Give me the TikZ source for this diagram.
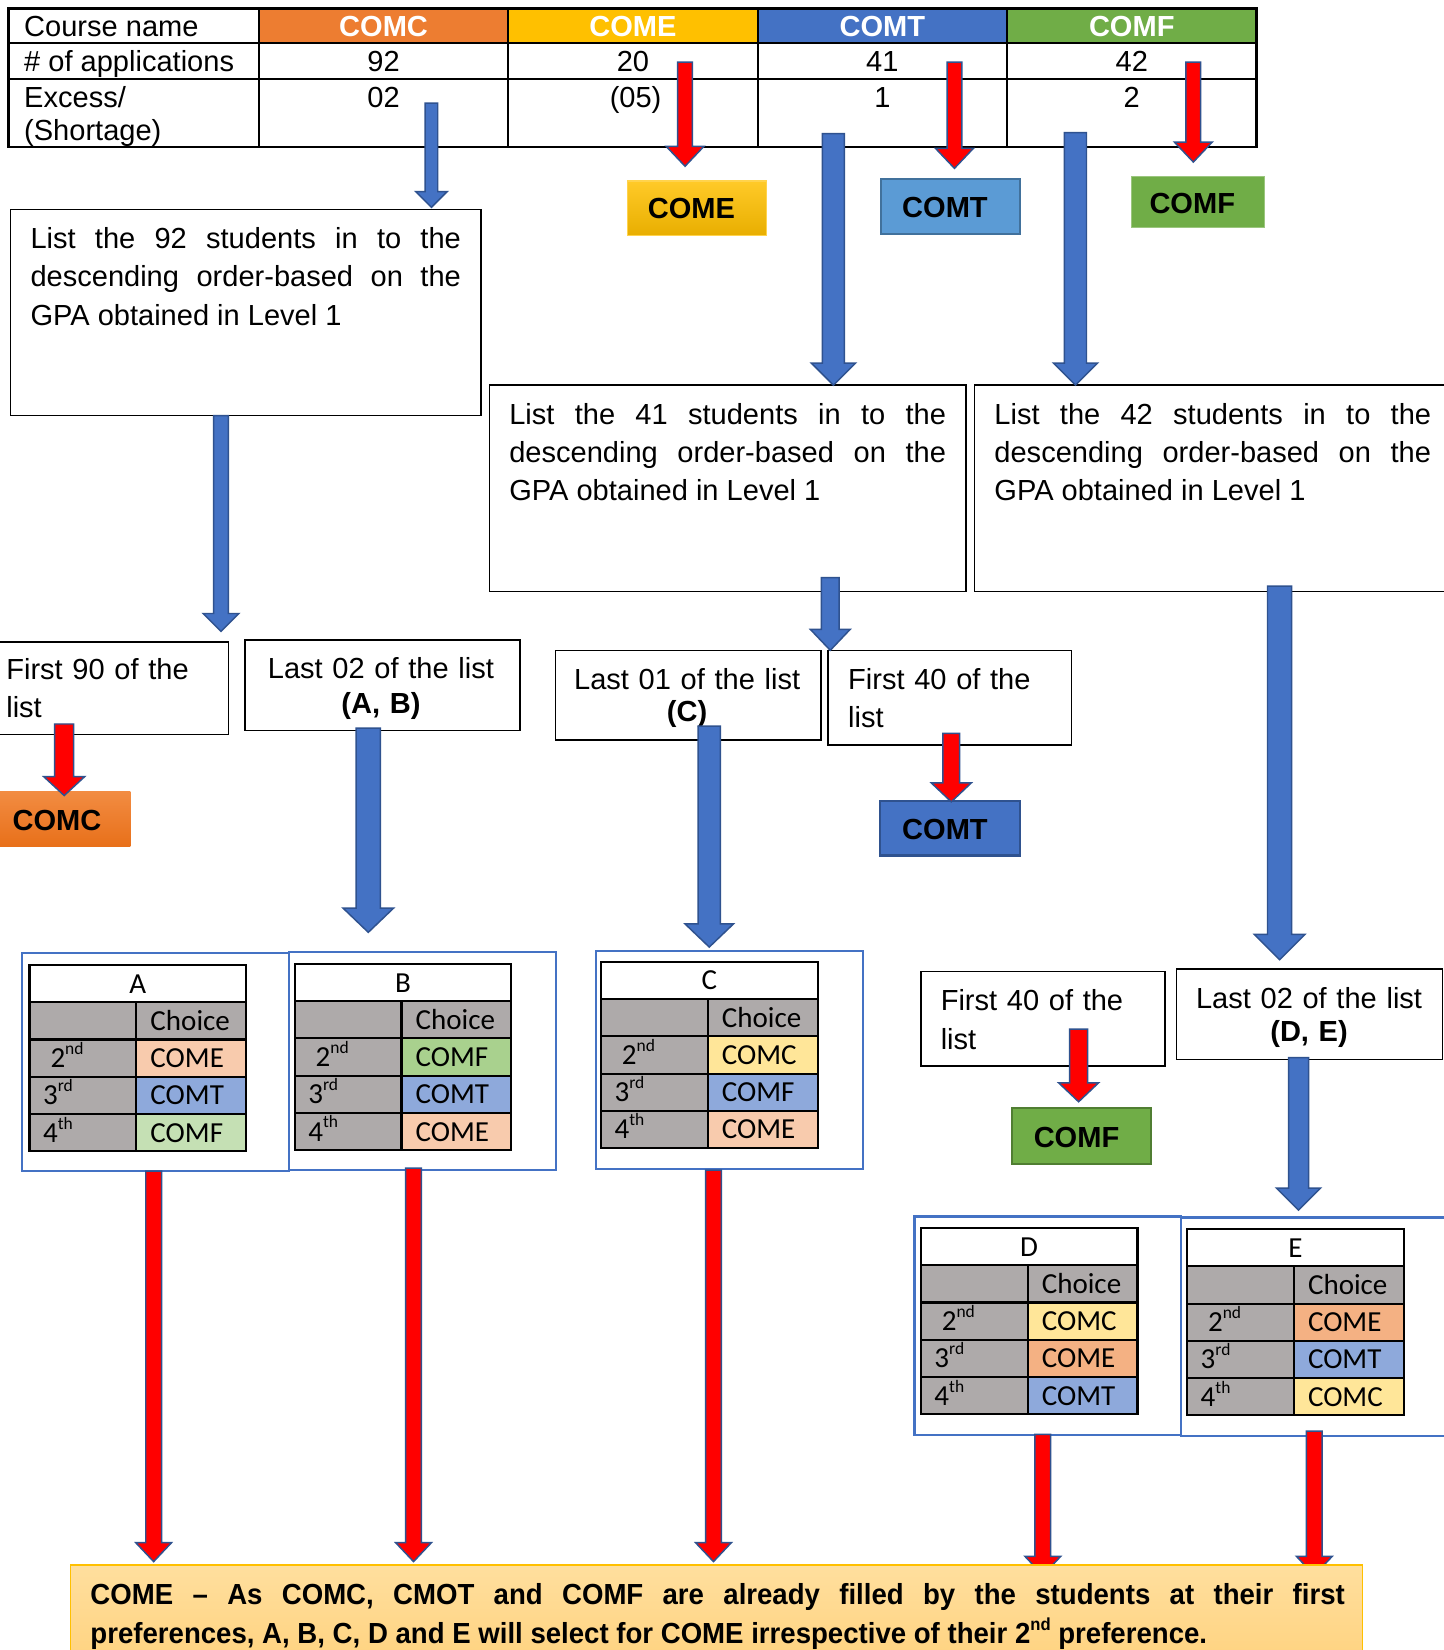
\documentclass[tikz,border=0pt]{standalone}
\usepackage{fontspec}
\setmainfont{Liberation Sans}
\newfontfamily\calfont{Carlito}
\newfontfamily\condfont[FakeStretch=0.95]{Liberation Sans}
\usetikzlibrary{fit}
\definecolor{cOrange}{HTML}{ED7D31}
\definecolor{cOrTop}{HTML}{F28C42}
\definecolor{cOrBot}{HTML}{E8701A}
\definecolor{cGold}{HTML}{FFC000}
\definecolor{cGoTop}{HTML}{FFCA28}
\definecolor{cGoBot}{HTML}{E8AE00}
\definecolor{cNoteTop}{HTML}{FFDF9E}
\definecolor{cNoteBot}{HTML}{FFD27E}
\definecolor{cBlue}{HTML}{4472C4}
\definecolor{cGreen}{HTML}{70AD47}
\definecolor{cEdge}{HTML}{2F528F}
\definecolor{cGrey}{HTML}{AEAAAA}
\definecolor{cPeach}{HTML}{F8CBAD}
\definecolor{cPeachD}{HTML}{F4B183}
\definecolor{cLBlue}{HTML}{8EA9DB}
\definecolor{cLGreen}{HTML}{C5E0B4}
\definecolor{cMGreen}{HTML}{A9D18E}
\definecolor{cLYellow}{HTML}{FFE699}
\definecolor{cSky}{HTML}{5B9BD5}
\definecolor{cSkyEdge}{HTML}{41719C}
\definecolor{cGreenEdge}{HTML}{507E32}
\definecolor{cRed}{HTML}{FF0000}
\newcommand{\bodyfont}{\fontsize{13.8}{18.25}\selectfont}
\newcommand{\supx}[1]{\raisebox{0.45em}{\fontsize{8.3}{8.3}\selectfont #1}}
\newcommand{\blockarrow}[7]{%
  \filldraw[fill=#7, draw=cEdge, line width=0.7pt, line join=miter]
  ({#1-#4},#2) -- ({#1+#4},#2) -- ({#1+#4},{#3-#6}) -- ({#1+#5},{#3-#6}) -- (#1,#3)
  -- ({#1-#5},{#3-#6}) -- ({#1-#4},{#3-#6}) -- cycle;}
\newcommand{\choicetab}[9]{%
  \begin{scope}[shift={(#1,#2)}]
    \fill[white] (0,0) rectangle (206,35.4);
    \fill[cGrey] (0,35.4) rectangle (206,177);
    \fill[#4] (101.5,70.8) rectangle (206,106.2);
    \fill[#6] (101.5,106.2) rectangle (206,141.6);
    \fill[#8] (101.5,141.6) rectangle (206,177);
    \draw[line width=1pt] (0,0) rectangle (206,177);
    \foreach \yy in {35.4,70.8,106.2,141.6} \draw[line width=1pt] (0,\yy) -- (206,\yy);
    \draw[line width=1pt] (101.5,35.4) -- (101.5,177);
    \node[ctxt, anchor=base] (h#3) at (103,26.7) {#3};
    \node[ctxt] (ch#3) at (115,62.1) {Choice};
    \node[ctxt] (r2#3) at (20,97.5) {2\supx{nd}};
    \node[ctxt] (r3#3) at (13,132.9) {3\supx{rd}};
    \node[ctxt] (r4#3) at (13,168.3) {4\supx{th}};
    \node[ctxt] (c2#3) at (115,97.5) {#5};
    \node[ctxt] (c3#3) at (115,132.9) {#7};
    \node[ctxt] (c4#3) at (115,168.3) {#9};
  \end{scope}}
\begin{document}
\begin{tikzpicture}[x=0.5pt,y=-0.5pt,
  every node/.style={inner sep=0pt,outer sep=0pt},
  txt/.style={font=\bodyfont, anchor=base west},
  ctxt/.style={font=\calfont\bodyfont, anchor=base west},
  hdr/.style={font=\bodyfont\bfseries, text=white, anchor=base},
  num/.style={font=\bodyfont, anchor=base},
  bx/.style={draw=black, line width=0.7pt, fill=white},
  frame/.style={draw=cBlue, line width=1pt},
  lab/.style={font=\bodyfont\bfseries, anchor=base}]
\useasboundingbox (0,0) rectangle (1372,1568);
\fill[white] (0,0) rectangle (1372,1568);

% ---------- top table ----------
\fill[cOrange] (246,8) rectangle (483,41);
\fill[cGold] (483,8) rectangle (720,41);
\fill[cBlue] (720,8) rectangle (957,41);
\fill[cGreen] (957,8) rectangle (1194,41);
\draw[line width=1.1pt] (8,8) rectangle (1194,140);
\draw[line width=1.1pt] (8,41) -- (1194,41) (8,75) -- (1194,75);
\foreach \xx in {246,483,720,957} \draw[line width=1.1pt] (\xx,8) -- (\xx,140);
\node[txt] (cn) at (23,35) {Course name};
\node[txt] (na) at (23,68) {\# of applications};
\node[txt, text width=100pt, font=\fontsize{13.8}{15.8}\selectfont] (ex) at (23,102) {Excess/\\(Shortage)};
\node[hdr] (hC) at (364.5,35) {COMC};
\node[hdr] (hE) at (601.5,35) {COME};
\node[hdr] (hT) at (838.5,35) {COMT};
\node[hdr] (hF) at (1075.5,35) {COMF};
\node[num] (aC) at (364.5,68) {92};
\node[num] (aE) at (601.5,68) {20};
\node[num] (aT) at (838.5,68) {41};
\node[num] (aF) at (1075.5,68) {42};
\node[num] (eC) at (364.5,102) {02};
\node[num] (eE) at (604,102) {(05)};
\node[num] (eT) at (838.5,102) {1};
\node[num] (eF) at (1075.5,102) {2};

% ---------- list boxes ----------
\node[bx, fit={(10,199) (457,395)}] (b92) {};
\node[txt, text width=204.5pt, align=justify] (t92) at (29,236)
  {\tolerance=10000 List the 92 students in to the\linebreak descending order-based on the\linebreak GPA obtained in Level 1};
\node[bx, fit={(465,366) (918,562)}] (b41) {};
\node[txt, text width=207.5pt, align=justify] (t41) at (484,403)
  {\tolerance=10000 List the 41 students in to the\linebreak descending order-based on the\linebreak GPA obtained in Level 1};
\node[bx, fit={(926,366) (1385,562)}] (b42) {};
\node[txt, text width=207.5pt, align=justify] (t42) at (945,403)
  {\tolerance=10000 List the 42 students in to the\linebreak descending order-based on the\linebreak GPA obtained in Level 1};

% ---------- split boxes ----------
\node[bx, fit={(-3,610) (217,698)}] (bF90) {};
\node[txt, text width=100pt, font=\fontsize{13.8}{18}\selectfont] (tF90) at (6,646) {First 90 of the\\list};
\node[bx, fit={(233,608) (494,694)}] (bL02) {};
\node[txt, anchor=base, text width=130pt, align=center, font=\fontsize{13.8}{16.5}\selectfont] (tL02) at (362,645) {Last 02 of the list\\\textbf{(A, B)}};
\node[bx, fit={(528,618) (780,703)}] (bL01) {};
\node[txt, anchor=base, text width=126pt, align=center, font=\fontsize{13.8}{15.5}\selectfont] (tL01) at (653,655) {Last 01 of the list\\\textbf{(C)}};
\node[bx, fit={(787,618) (1018,708)}] (bF40) {};
\node[txt, text width=105pt, font=\fontsize{13.8}{18}\selectfont] (tF40) at (806,655) {First 40 of the\\list};
\node[bx, fit={(875,923) (1107,1013)}] (bF40b) {};
\node[txt, text width=105pt, font=\fontsize{13.8}{18.5}\selectfont] (tF40b) at (894,960) {First 40 of the\\list};
\node[bx, fit={(1118,921) (1371,1007)}] (bL02b) {};
\node[txt, anchor=base, text width=126pt, align=center, font=\fontsize{13.8}{16}\selectfont] (tL02b) at (1244,958) {Last 02 of the list\\\textbf{(D, E)}};

% ---------- choice tables ----------
\node[frame, fit={(21,906) (275,1113)}] (fA) {};
\node[frame, fit={(275,905) (528,1112)}] (fB) {};
\node[frame, fit={(566,904) (820,1111)}] (fC) {};
\node[frame, fit={(869,1156) (1122,1364)}] (fD) {};
\node[frame, fit={(1122,1157) (1380,1365)}] (fE) {};
\choicetab{28}{917}{A}{cPeach}{COME}{cLBlue}{COMT}{cLGreen}{COMF}
\choicetab{280}{916}{B}{cMGreen}{COMF}{cLBlue}{COMT}{cPeach}{COME}
\choicetab{571}{914}{C}{cLYellow}{COMC}{cLBlue}{COMF}{cPeach}{COME}
\choicetab{875}{1167}{D}{cLYellow}{COMC}{cPeachD}{COME}{cLBlue}{COMT}
\choicetab{1128}{1168}{E}{cPeachD}{COME}{cLBlue}{COMT}{cLYellow}{COMC}

% ---------- course boxes ----------
\node[fit={(596,172) (728,224)}, top color=cGoTop, bottom color=cGoBot, draw=cGold!70!white, line width=0.5pt] (kE) {};
\node[lab] (lE) at (657,208) {COME};
\node[fit={(837,170) (969,222)}, fill=cSky, draw=cSkyEdge, line width=1pt] (kT) {};
\node[lab] (lT) at (898,207) {COMT};
\node[fit={(1075,168) (1202,216)}, fill=cGreen, draw=cGreen!70!white, line width=0.5pt] (kF) {};
\node[lab] (lF) at (1133,203) {COMF};
\node[fit={(0,752) (124,804)}, top color=cOrTop, bottom color=cOrBot, draw=none] (kC) {};
\node[lab, anchor=base west] (lC) at (12,789) {COMC};
\node[fit={(836,761) (969,813)}, fill=cBlue, draw=cEdge, line width=1pt] (kT2) {};
\node[lab] (lT2) at (898,798) {COMT};
\node[fit={(962,1053) (1094,1106)}, fill=cGreen, draw=cGreenEdge, line width=1pt] (kF2) {};
\node[lab] (lF2) at (1023,1090) {COMF};

% ---------- block arrows ----------
\blockarrow{410}{98}{197}{6}{15}{15}{cBlue}
\blockarrow{651}{59}{158}{7}{18}{19}{cRed}
\blockarrow{907}{59}{160}{7}{18}{19}{cRed}
\blockarrow{1134}{59}{154}{7}{18}{19}{cRed}
\blockarrow{792}{127}{366}{10.5}{21}{21}{cBlue}
\blockarrow{1022}{126}{366}{10.5}{21}{21}{cBlue}
\blockarrow{210}{395}{600}{7}{17}{17}{cBlue}
\blockarrow{789}{549}{618}{8.5}{19}{20}{cBlue}
\blockarrow{1216}{557}{912}{11.5}{24}{24}{cBlue}
\blockarrow{61}{688}{756}{9}{19.5}{18}{cRed}
\blockarrow{350}{692}{886}{11.5}{24}{23}{cBlue}
\blockarrow{674}{690}{900}{10.5}{23}{22}{cBlue}
\blockarrow{904}{697}{762}{8}{19}{18}{cRed}
\blockarrow{1025}{978}{1047}{8.5}{19}{18}{cRed}
\blockarrow{1234}{1005}{1150}{9.5}{21}{21}{cBlue}
\blockarrow{146}{1113}{1484}{7.5}{17}{18}{cRed}
\blockarrow{393}{1110}{1484}{7.5}{17}{18}{cRed}
\blockarrow{678}{1112}{1484}{7.5}{17}{18}{cRed}
\blockarrow{991}{1363}{1497}{7.5}{17}{18}{cRed}
\blockarrow{1249}{1360}{1497}{7.5}{17}{18}{cRed}

% ---------- bottom note ----------
\node[fit={(67,1487) (1295,1585)}, top color=cNoteTop, bottom color=cNoteBot, draw=cGold, line width=0.7pt] (note) {};
\node[txt, text width=596pt, align=justify, font=\condfont\bfseries\bodyfont] (tnote) at (86,1525)
  {\tolerance=10000 COME – As COMC, CMOT and COMF are already filled by the students at their first\linebreak preferences, A, B, C, D and E will select for COME irrespective of their 2\supx{nd} preference.};
\end{tikzpicture}
\end{document}
